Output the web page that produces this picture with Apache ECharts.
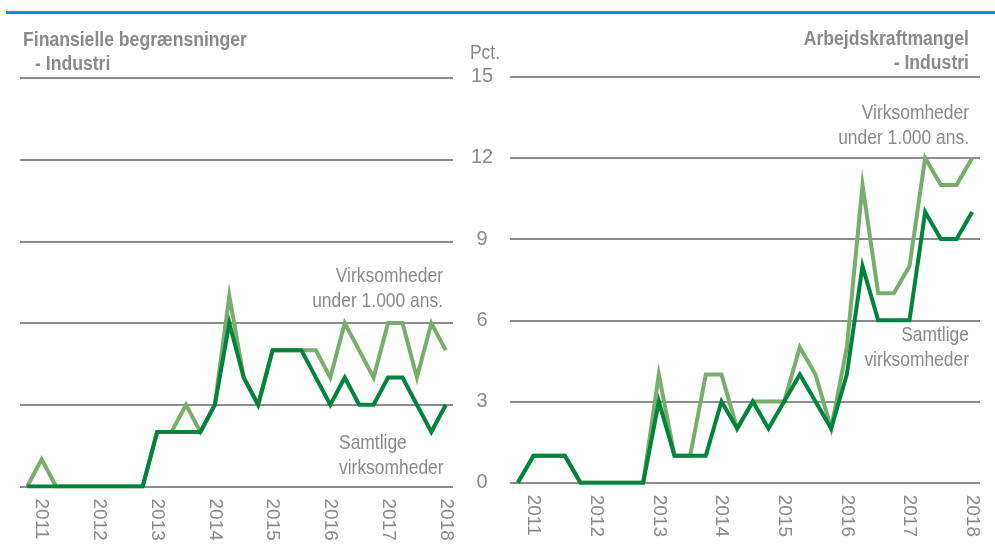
<!DOCTYPE html>
<html>
<head>
<meta charset="utf-8">
<script src="https://cdn.jsdelivr.net/npm/echarts@6/dist/echarts.min.js"></script>
<style>
  html, body { margin: 0; padding: 0; background: #fff; }
  #chart { width: 995px; height: 547px; }
</style>
</head>
<body>
<div id="chart"></div>
<script>
// kvartaler 2010K4 - 2018K1
const quarters = [
  '2010K4',
  '2011K1', '2011K2', '2011K3', '2011K4',
  '2012K1', '2012K2', '2012K3', '2012K4',
  '2013K1', '2013K2', '2013K3', '2013K4',
  '2014K1', '2014K2', '2014K3', '2014K4',
  '2015K1', '2015K2', '2015K3', '2015K4',
  '2016K1', '2016K2', '2016K3', '2016K4',
  '2017K1', '2017K2', '2017K3', '2017K4',
  '2018K1',
];

// Finansielle begrænsninger - Industri
const finAll = [0, 0, 0, 0, 0, 0, 0, 0, 0, 2, 2, 2, 2, 3, 6, 4, 3, 5, 5, 5, 4, 3, 4, 3, 3, 4, 4, 3, 2, 3];
const finSmall = [0, 1, 0, 0, 0, 0, 0, 0, 0, 2, 2, 3, 2, 3, 7, 4, 3, 5, 5, 5, 5, 4, 6, 5, 4, 6, 6, 4, 6, 5];

// Arbejdskraftmangel - Industri
const labAll = [0, 1, 1, 1, 0, 0, 0, 0, 0, 3, 1, 1, 1, 3, 2, 3, 2, 3, 4, 3, 2, 4, 8, 6, 6, 6, 10, 9, 9, 10];
const labSmall = [0, 1, 1, 1, 0, 0, 0, 0, 0, 4, 1, 1, 4, 4, 2, 3, 3, 3, 5, 4, 2, 5, 11, 7, 7, 8, 12, 11, 11, 12];

const FONT = '"Liberation Sans", Arial, sans-serif';
const GREY = '#8a8a8a';
const DARK = '#00843c';
const LIGHT = '#77ae6c';

const xAxisFor = (gridIndex) => ({
  type: 'category',
  gridIndex,
  data: quarters,
  boundaryGap: true,
  axisLine: { show: false },
  axisTick: { show: false },
  axisLabel: {
    interval: (idx) => idx % 4 === 1,
    formatter: (v) => v.slice(0, 4),
    rotate: -90,
    margin: 12,
    color: GREY,
    fontFamily: FONT,
    fontSize: 19,
  },
});

const yAxisFor = (gridIndex, showLabels) => ({
  type: 'value',
  gridIndex,
  min: 0,
  max: 15,
  interval: 3,
  position: 'left',
  axisLine: { show: false },
  axisTick: { show: false },
  axisLabel: {
    show: showLabels,
    align: 'center',
    margin: 28,
    color: GREY,
    fontFamily: FONT,
    fontSize: 20,
  },
  splitLine: { lineStyle: { color: '#8c8c8c', width: 2 } },
});

const lineSeries = (name, data, color, idx) => ({
  name,
  type: 'line',
  xAxisIndex: idx,
  yAxisIndex: idx,
  data,
  symbol: 'none',
  lineStyle: { color, width: 4, join: 'miter' },
  animation: false,
});

// smal skrift: normal font presset vandret
const text = (x, y, str, align, bold) => ({
  type: 'text',
  x,
  y,
  scaleX: bold ? 0.88 : 0.83,
  style: {
    text: str,
    fill: GREY,
    font: `${bold ? 'bold 20px' : '21px'} ${FONT}`,
    textAlign: align,
    textVerticalAlign: 'middle',
  },
});

const chart = echarts.init(document.getElementById('chart'));
chart.setOption({
  animation: false,
  grid: [
    { left: 20, top: 78, width: 433, height: 408.5 },
    { left: 510, top: 76.7, width: 470, height: 406 },
  ],
  xAxis: [xAxisFor(0), xAxisFor(1)],
  yAxis: [yAxisFor(0, false), yAxisFor(1, true)],
  series: [
    lineSeries('Virksomheder under 1.000 ans.', finSmall, LIGHT, 0),
    lineSeries('Samtlige virksomheder', finAll, DARK, 0),
    lineSeries('Virksomheder under 1.000 ans.', labSmall, LIGHT, 1),
    lineSeries('Samtlige virksomheder', labAll, DARK, 1),
  ],
  graphic: [
    { type: 'rect', shape: { x: 6, y: 11, width: 989, height: 3 }, style: { fill: '#0091d5' } },
    text(23, 40, 'Finansielle begrænsninger', 'left', true),
    text(35, 64, '- Industri', 'left', true),
    text(969, 39, 'Arbejdskraftmangel', 'right', true),
    text(969, 63, '- Industri', 'right', true),
    text(485, 53, 'Pct.', 'center', false),
    text(443, 276, 'Virksomheder', 'right', false),
    text(443, 301, 'under 1.000 ans.', 'right', false),
    text(339, 443, 'Samtlige', 'left', false),
    text(339, 468, 'virksomheder', 'left', false),
    text(969, 113, 'Virksomheder', 'right', false),
    text(969, 138, 'under 1.000 ans.', 'right', false),
    text(969, 335, 'Samtlige', 'right', false),
    text(969, 360, 'virksomheder', 'right', false),
  ],
});
</script>
</body>
</html>
